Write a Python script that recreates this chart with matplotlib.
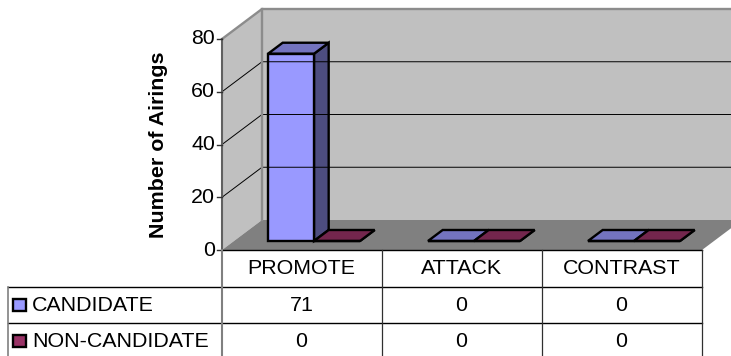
import matplotlib
matplotlib.use('Agg')
import matplotlib.pyplot as plt
from matplotlib.patches import Polygon, Rectangle

categories = ['PROMOTE', 'ATTACK', 'CONTRAST']
series_names = ['CANDIDATE', 'NON-CANDIDATE']
candidate = [71, 0, 0]
non_candidate = [0, 0, 0]
y_ticks = [0, 20, 40, 60, 80]

plt.rcParams['font.family'] = ['Liberation Sans', 'DejaVu Sans']

# 3d box layout, all in pixels
X0, Y0 = 222, 250     # front left corner of the floor
CAT_W = 160
PX_PER_UNIT = 211 / 80
DX, DY = 40, -30      # full depth of the box
FONT = 15.4

def proj(x, val, d):
    # x in category units, val in airings, d is depth 0 to 1
    return (X0 + x * CAT_W + d * DX, Y0 - val * PX_PER_UNIT + d * DY)

fig = plt.figure(figsize=(7.31, 3.56), dpi=100)
ax = fig.add_axes([0, 0, 1, 1])
ax.set_xlim(0, 731)
ax.set_ylim(356, 0)
ax.axis('off')

n = len(categories)
top = y_ticks[-1]

# walls and floor
ax.add_patch(Polygon([proj(0, 0, 0), proj(0, top, 0), proj(0, top, 1), proj(0, 0, 1)],
                     fc='#c0c0c0', ec='none'))
ax.add_patch(Polygon([proj(0, 0, 1), proj(0, top, 1), proj(n, top, 1), proj(n, 0, 1)],
                     fc='#c0c0c0', ec='none'))
ax.add_patch(Polygon([proj(0, 0, 0), proj(0, 0, 1), proj(n, 0, 1), proj(n, 0, 0)],
                     fc='#808080', ec='none'))

# gridlines run along the side wall then the back wall
for t in y_ticks[1:-1]:
    pts = [proj(0, t, 0), proj(0, t, 1), proj(n, t, 1)]
    ax.plot([p[0] for p in pts], [p[1] for p in pts], color='black', lw=0.7)

# wall edges
pts = [proj(0, top, 0), proj(0, top, 1), proj(n, top, 1)]
ax.plot([p[0] for p in pts], [p[1] for p in pts], color='#8c8c8c', lw=1.7)
pts = [proj(0, 0, 1), proj(0, top, 1)]
ax.plot([p[0] for p in pts], [p[1] for p in pts], color='#8c8c8c', lw=1.7)

# value axis
pts = [proj(0, 0, 0), proj(0, top, 0)]
ax.plot([p[0] for p in pts], [p[1] for p in pts], color='#606060', lw=1.5)
for t in y_ticks:
    x, y = proj(0, t, 0)
    ax.plot([x - 5, x], [y, y], color='#303030', lw=1.0)
    ax.text(x - 7, y, str(t), ha='right', va='center', fontsize=FONT)

ax.text(158, 145, 'Number of Airings', rotation=90, ha='center', va='center',
        fontsize=15.4, fontweight='bold')

# bars
BAR_W = 46 / CAT_W
GAP = 34 / CAT_W
D_FRONT, D_BACK = 0.3, 0.667
colors = [('#9999ff', '#7373bf', '#4d4d80'), ('#993366', '#73264d', '#4d1a33')]

def draw_bar(x, val, cols):
    front, upper, side = cols
    x1 = x + BAR_W
    kw = dict(ec='black', lw=1.7, joinstyle='miter')
    ax.add_patch(Polygon([proj(x1, 0, D_FRONT), proj(x1, val, D_FRONT),
                          proj(x1, val, D_BACK), proj(x1, 0, D_BACK)], fc=side, **kw))
    ax.add_patch(Polygon([proj(x, val, D_FRONT), proj(x1, val, D_FRONT),
                          proj(x1, val, D_BACK), proj(x, val, D_BACK)], fc=upper, **kw))
    ax.add_patch(Polygon([proj(x, 0, D_FRONT), proj(x1, 0, D_FRONT),
                          proj(x1, val, D_FRONT), proj(x, val, D_FRONT)], fc=front, **kw))

for i in range(n):
    draw_bar(i + GAP, candidate[i], colors[0])
    draw_bar(i + GAP + BAR_W, non_candidate[i], colors[1])

# data table underneath
ROW_H = 36.3
rows_y = [Y0 + 37, Y0 + 37 + ROW_H, Y0 + 37 + 2 * ROW_H]
LEFT = 8
right = X0 + n * CAT_W - 0.5

ax.plot([X0, right], [Y0, Y0], color='black', lw=1.0)
ax.plot([LEFT, right], [rows_y[0], rows_y[0]], color='black', lw=1.0)
ax.plot([LEFT, right], [rows_y[1], rows_y[1]], color='black', lw=1.0)
ax.plot([LEFT, LEFT], [rows_y[0], 356], color='#808080', lw=1.2)
ax.plot([X0, X0], [Y0, 356], color='#808080', lw=1.5)
for i in range(1, n + 1):
    x = X0 + i * CAT_W - 0.5
    ax.plot([x, x], [Y0, 356], color='#303030', lw=0.9)

for i, c in enumerate(categories):
    cx = X0 + (i + 0.5) * CAT_W - 0.5
    ax.text(cx, (Y0 + rows_y[0]) / 2 + 0.5, c, ha='center', va='center', fontsize=FONT)
    ax.text(cx, (rows_y[0] + rows_y[1]) / 2 + 0.5, str(candidate[i]), ha='center', va='center', fontsize=FONT)
    ax.text(cx, (rows_y[1] + rows_y[2]) / 2 + 0.5, str(non_candidate[i]), ha='center', va='center', fontsize=FONT)

# series keys in the table's first column
for j, name in enumerate(series_names):
    ym = rows_y[j] + ROW_H / 2
    ax.add_patch(Rectangle((13, ym - 6.5), 12.5, 12.5, fc=colors[j][0], ec='black', lw=1.7))
    ax.text(32, ym + 0.5, name, ha='left', va='center', fontsize=FONT)

fig.savefig('out.png', dpi=100)
